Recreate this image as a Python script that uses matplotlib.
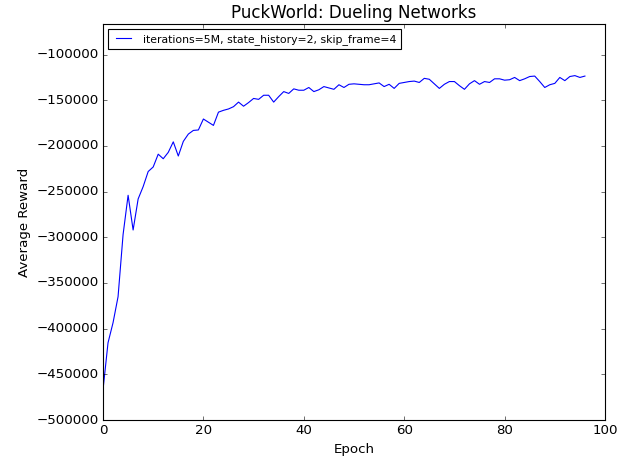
import matplotlib
matplotlib.use('Agg')
import matplotlib.pyplot as plt

plt.style.use('classic')

# average reward per epoch
epochs = list(range(97))
rewards = [
    -467000, -415500, -393500, -365000, -297000, -254000, -292000, -258000,
    -244500, -228000, -223000, -209000, -214000, -207000, -195500, -211000,
    -195000, -187000, -183000, -182500, -170500, -174000, -177500, -163000,
    -161000, -159500, -157000, -152000, -156500, -152500, -148000, -149000,
    -144500, -144500, -152000, -146000, -140500, -142500, -137500, -139000,
    -139000, -136000, -140500, -138500, -135000, -136500, -138000, -133000,
    -136000, -132500, -132000, -132500, -133000, -133000, -132000, -131000,
    -135000, -132500, -137000, -131500, -130500, -129500, -129000, -130500,
    -126000, -127000, -132000, -137000, -132500, -129500, -129500, -134000,
    -138000, -132000, -128500, -132500, -129500, -130500, -126500, -126500,
    -128000, -127500, -125000, -128500, -126500, -124000, -123500, -129500,
    -136000, -133000, -131500, -125000, -128500, -124000, -123000, -125000,
    -123500,
]
label = 'iterations=5M, state_history=2, skip_frame=4'

fig = plt.figure(figsize=(625 / 80, 464 / 80), dpi=80, facecolor='white')
ax = fig.add_axes([103 / 625, 44 / 464, 502 / 625, 396 / 464])

ax.plot(epochs, rewards, 'b-', linewidth=1, label=label)
ax.set_xlim(0, 100)
ax.set_ylim(-500000, -66500)
ax.set_title('PuckWorld: Dueling Networks', fontsize=15)
ax.set_xlabel('Epoch', fontsize=12)
ax.set_ylabel('Average Reward', fontsize=12)
ax.legend(loc='upper left', fontsize=9.8)

fig.savefig('out.png', dpi=80, facecolor='white')
